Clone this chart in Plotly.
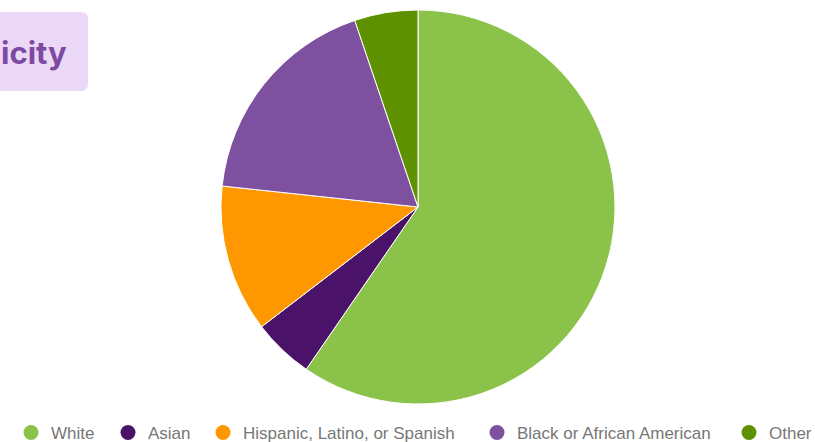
import plotly.graph_objects as go

W, H = 815, 442

categories = ["White", "Asian", "Hispanic, Latino, or Spanish", "Black or African American", "Other"]
values = [59.6, 5.0, 12.1, 18.1, 5.2]
colors = ["#8BC34A", "#4A1268", "#FF9800", "#7E50A0", "#5E9100"]
title_text = "icity"

# legend marker centres (px)
legend_x = [31, 128, 223, 497, 749]

fig = go.Figure()

def px(x): return x / W
def py(y): return 1 - y / H

# pie centered at (418, 207) px, radius ~197
cx, cy, r = 418, 207, 197
fig.add_trace(go.Pie(
    labels=categories, values=values, sort=False, direction="clockwise", rotation=0,
    marker=dict(colors=colors, line=dict(color="#FFFFFF", width=1)),
    textinfo="none", hoverinfo="label+percent", showlegend=False,
    domain=dict(x=[px(cx - r), px(cx + r)], y=[py(cy + r), py(cy - r)]),
))

legend_layout = {}
for i, (name, col, lx) in enumerate(zip(categories, colors, legend_x)):
    key = "legend" if i == 0 else f"legend{i + 1}"
    fig.add_trace(go.Scatter(
        x=[None], y=[None], mode="markers", name=name,
        marker=dict(symbol="circle", size=15, color=col),
        showlegend=True, legend=key,
    ))
    legend_layout[key] = dict(
        orientation="h", x=px(lx - 20), xanchor="left", y=py(433), yanchor="middle",
        font=dict(family="Liberation Sans, Arial", size=17, color="#777777"),
        bgcolor="rgba(0,0,0,0)",
    )

# title box (rounded right corners), clipped at left edge
x0, x1, y0, y1, rr = -20, 88, 12, 91, 7
path = (f"M {px(x0)},{py(y0)} L {px(x1 - rr)},{py(y0)} Q {px(x1)},{py(y0)} {px(x1)},{py(y0 + rr)} "
        f"L {px(x1)},{py(y1 - rr)} Q {px(x1)},{py(y1)} {px(x1 - rr)},{py(y1)} L {px(x0)},{py(y1)} Z")
fig.add_shape(type="path", xref="paper", yref="paper", path=path,
              fillcolor="#EBD8F7", line=dict(width=0), layer="below")
fig.add_annotation(text=f"<b>{title_text}</b>", xref="paper", yref="paper",
                   x=px(69), y=py(52), xanchor="right", yanchor="middle", showarrow=False,
                   font=dict(family="Inter", size=31, color="#7D4AA2", weight=800))

fig.update_layout(
    width=W, height=H, margin=dict(l=0, r=0, t=0, b=0, autoexpand=False),
    paper_bgcolor="white", plot_bgcolor="white",
    xaxis=dict(visible=False), yaxis=dict(visible=False),
    **legend_layout,
)

fig.write_html("out.html", config={"displayModeBar": False},
               post_script="document.body.style.margin='0';document.body.style.overflow='hidden';")
